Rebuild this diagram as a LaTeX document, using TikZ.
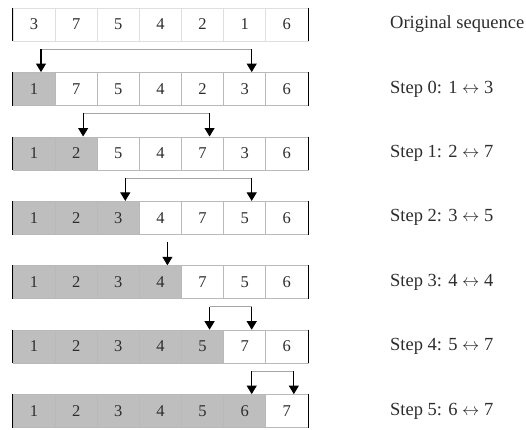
\documentclass[tikz,border=0pt]{standalone}
\usepackage{fontspec}
\setmainfont{Liberation Serif}
\usepackage{tikz}
\usetikzlibrary{arrows.meta, calc}
\definecolor{cellgray}{RGB}{190,190,190}
\definecolor{ink}{RGB}{45,45,45}
\tikzset{
  cell/.style={rectangle, line width=0.6pt, minimum width=42.14pt,
    minimum height=33pt, inner sep=0pt,
    font=\fontsize{16.5}{18}\selectfont, text=ink},
  steplabel/.style={anchor=west, inner sep=0pt,
    font=\fontsize{18.5}{20}\selectfont, text=ink},
  rowedge/.style={black, line width=1.2pt},
  swaparrow/.style={-{Triangle[width=10pt,length=8.5pt]}, line width=1.1pt, black},
  bar/.style={gray!70, line width=0.8pt}
}

\begin{document}
\begin{tikzpicture}[x=1pt, y=1pt]
  \useasboundingbox (0,0) rectangle (526,429);

  % Rows of cells, sorted part shaded
  \foreach \vals [count=\row from 0] in {{3,7,5,4,2,1,6},{1,7,5,4,2,3,6},
      {1,2,5,4,7,3,6},{1,2,3,4,7,5,6},{1,2,3,4,7,5,6},
      {1,2,3,4,5,7,6},{1,2,3,4,5,6,7}} {
    \pgfmathsetmacro\lc{\row==0 ? 25 : 55}
    \foreach \v [count=\col from 0] in \vals {
      \pgfmathsetmacro\pct{(\col<\row)*100}
      \node[cell, draw=gray!\lc, fill=cellgray!\pct!white] (c-\row-\col)
        at ({34+42.14*\col},{404.5-64.4*\row}) {\v};
    }
    \draw[rowedge] (c-\row-0.north west) -- (c-\row-0.south west);
    \draw[rowedge] (c-\row-6.north east) -- (c-\row-6.south east);
  }

  % Labels
  \foreach \txt [count=\row from 0] in {Original sequence,
      Step 0: 1 $\leftrightarrow$ 3, Step 1: 2 $\leftrightarrow$ 7,
      Step 2: 3 $\leftrightarrow$ 5, Step 3: 4 $\leftrightarrow$ 4,
      Step 4: 5 $\leftrightarrow$ 7, Step 5: 6 $\leftrightarrow$ 7} {
    \node[steplabel] (lab-\row) at (390,{404.5-64.4*\row}) {\txt};
  }

  % Swap arrows
  \foreach \row/\a/\b in {1/0/5, 2/1/4, 3/2/5, 5/4/5, 6/5/6} {
    \draw[bar] ($(c-\row-\a.north)+(7,23)$) -- ($(c-\row-\b.north)+(7,23)$);
    \draw[swaparrow] ($(c-\row-\a.north)+(7,23)$) -- ($(c-\row-\a.north)+(7,0)$);
    \draw[swaparrow] ($(c-\row-\b.north)+(7,23)$) -- ($(c-\row-\b.north)+(7,0)$);
  }
  % Step 3: element stays in place
  \draw[swaparrow] ($(c-4-3.north)+(7,23)$) -- ($(c-4-3.north)+(7,0)$);
\end{tikzpicture}
\end{document}
